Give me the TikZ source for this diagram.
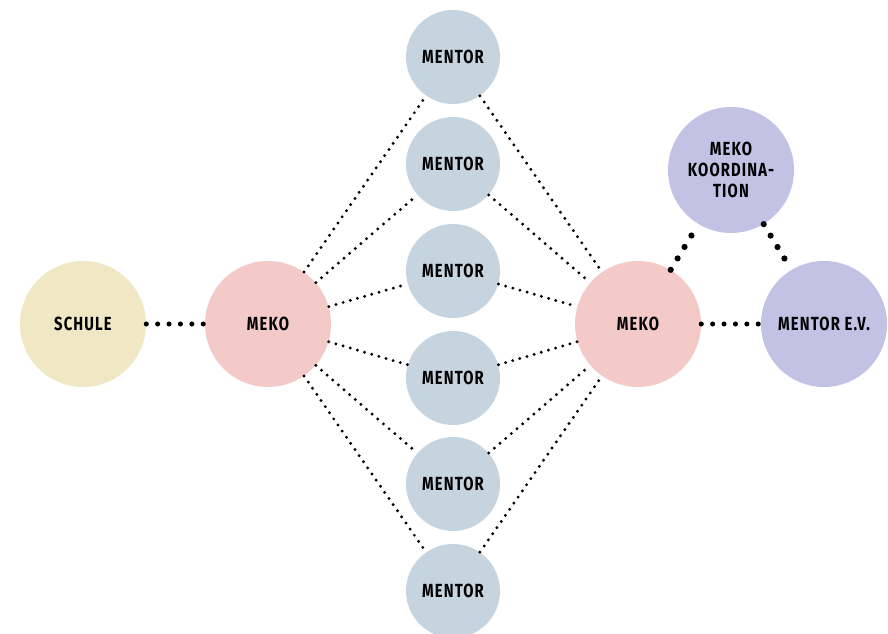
\documentclass[tikz,border=0pt]{standalone}
\usepackage{fontspec}
\setmainfont{Fira Sans}[FakeStretch=0.78, LetterSpace=6]
\usepackage{tikz}

\definecolor{schulecol}{RGB}{240,232,196}
\definecolor{mekocol}{RGB}{243,202,199}
\definecolor{mentorcol}{RGB}{198,212,224}
\definecolor{vereincol}{RGB}{193,194,228}

\tikzset{
  bubble/.style={circle, inner sep=0pt, minimum size=3.15cm, align=center,
    font=\bfseries\fontsize{13.5}{15}\selectfont},
  smallbubble/.style={bubble, minimum size=2.35cm},
  finedots/.style={line width=2.3pt, line cap=round, dash pattern=on 0pt off 5.3pt},
  bigdots/.style={line width=3.6pt, line cap=round, dash pattern=on 0pt off 8.1pt},
  hugedots/.style={line width=4.4pt, line cap=round, dash pattern=on 0pt off 9.5pt}
}

\begin{document}
\begin{tikzpicture}
            \useasboundingbox (0,0) rectangle (22.2,15.85);
            % left side
            \node[bubble, fill=schulecol] (schule) at (2.075,7.75) {SCHULE};
            \node[bubble, fill=mekocol] (mekoL) at (6.7,7.75) {MEKO};
            % mentors in the middle
            \node[smallbubble, fill=mentorcol] (m1) at (11.325,14.425) {MENTOR};
            \node[smallbubble, fill=mentorcol] (m2) at (11.325,11.75) {MENTOR};
            \node[smallbubble, fill=mentorcol] (m3) at (11.325,9.075) {MENTOR};
            \node[smallbubble, fill=mentorcol] (m4) at (11.325,6.4) {MENTOR};
            \node[smallbubble, fill=mentorcol] (m5) at (11.325,3.75) {MENTOR};
            \node[smallbubble, fill=mentorcol] (m6) at (11.325,1.075) {MENTOR};
            % right side
            \node[bubble, fill=mekocol] (mekoR) at (15.95,7.75) {MEKO};
            \node[bubble, fill=vereincol] (koord) at (18.275,11.6) {MEKO\\[0pt]KOORDINA-\\[0pt]TION};
            \node[bubble, fill=vereincol] (verein) at (20.6,7.75) {MENTOR E.V.};
            % connections
            \draw[bigdots] (schule) -- (mekoL);
            \draw[bigdots] (mekoR) -- (verein);
            \draw[hugedots] (mekoR) -- (koord);
            \draw[hugedots] (koord) -- (verein);
            \foreach \m in {m1,m2,m3,m4,m5,m6} {
              \draw[finedots] (mekoL) -- (\m);
              \draw[finedots] (\m) -- (mekoR);
            }
        \end{tikzpicture}
\end{document}
